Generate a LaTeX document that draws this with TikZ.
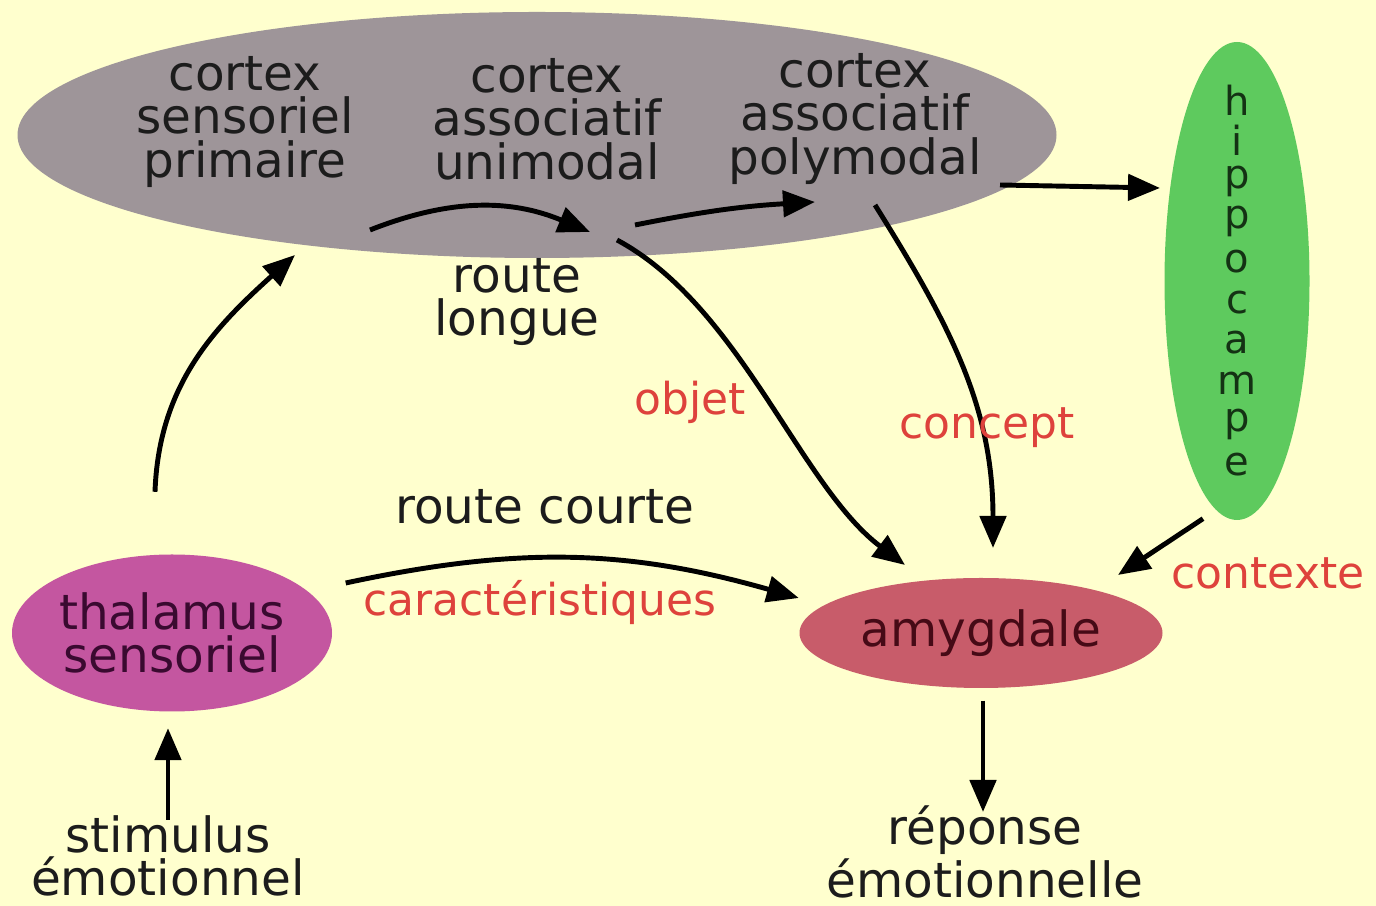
\documentclass[tikz,border=0pt]{standalone}
\usepackage{fontspec}
\setmainfont{DejaVu Sans}
\usepackage{tikz}
\usepackage{xcolor}
\usetikzlibrary{shapes.geometric,arrows.meta}
\definecolor{bgyellow}{RGB}{255,255,206}
\definecolor{cortexgray}{RGB}{158,149,153}
\definecolor{hipgreen}{RGB}{94,202,94}
\definecolor{thalpink}{RGB}{196,86,160}
\definecolor{amygred}{RGB}{200,92,106}
\definecolor{labelred}{RGB}{222,66,60}
\definecolor{inkgray}{RGB}{28,28,28}

\begin{document}
\begin{tikzpicture}[x=0.1mm,y=0.1mm,
  blob/.style={ellipse,inner sep=0pt},
  txt/.style={align=center,text=inkgray,inner sep=0pt,font=\fontsize{13.8}{12.4}\selectfont},
  redtxt/.style={text=labelred,inner sep=0pt,font=\fontsize{12.5}{14}\selectfont},
  arr/.style={line width=1.4pt,-{Triangle[length=3.2mm,width=2.6mm]}}]
  \fill[bgyellow] (0,0) rectangle (1376,906);
  \useasboundingbox (0,0) rectangle (1376,906);

  \node[blob,fill=cortexgray,minimum width=103.9mm,minimum height=24.6mm] (cortex) at (537,771) {};
  \node[blob,fill=hipgreen,minimum width=14.5mm,minimum height=47.8mm] (hippo) at (1237,625) {};
  \node[blob,txt,fill=thalpink,text={rgb,255:red,58;green,10;blue,48},minimum width=32mm,minimum height=15.7mm] (thal) at (172,273) {thalamus\\sensoriel};
  \node[blob,txt,fill=amygred,text={rgb,255:red,70;green,10;blue,22},minimum width=36.3mm,minimum height=11mm] (amyg) at (981,273) {amygdale};

  \node[txt] (prim) at (245,784) {cortex\\sensoriel\\primaire};
  \node[txt] (uni) at (547,787) {cortex\\associatif\\unimodal};
  \node[txt] (poly) at (855,787) {cortex\\associatif\\polymodal};
  \foreach \l [count=\i from 0] in {h,i,p,p,o,c,a,m,p,e}
    \node[txt,text={rgb,255:red,20;green,50;blue,20},font=\fontsize{11.4}{12}\selectfont] (hl\i) at (1237,806-40.5*\i) {\l};

  \node[txt] (longue) at (517,604) {route\\longue};
  \node[txt] (courte) at (545,399) {route courte};
  \node[txt] (stim) at (168,50) {stimulus\\émotionnel};
  \node[txt] (resp) at (985,54) {réponse\\émotionnelle};

  \draw[arr] ([shift={(-17,62)}]thal.north) to[out=88,in=222] ([shift={(-242,-120)}]cortex.center);
  \draw[arr] ([shift={(125,-108)}]prim.center) to[bend left=22] ([shift={(43,-113)}]uni.center);
  \draw[arr] ([shift={(88,-106)}]uni.center) to[bend left=4] ([shift={(-40,-83)}]poly.center);
  \draw[arr] ([shift={(145,-66)}]poly.center) -- ([shift={(-77,93)}]hippo.center);
  \draw[arr] ([shift={(70,-121)}]uni.center) .. controls +(123,-66) and +(-105,79) .. ([shift={(-76,68)}]amyg.center);
  \draw[arr] ([shift={(20,-86)}]poly.center) to[out=-58,in=90] ([shift={(12,85)}]amyg.center);
  \draw[arr] ([shift={(13,50)}]thal.east) to[bend left=14] ([shift={(0,35)}]amyg.west);
  \draw[arr] ([shift={(-34,2)}]hippo.south) -- ([shift={(137,58)}]amyg.center);
  \draw[arr] ([yshift=3.6mm]stim.center) -- ([shift={(-4,-16)}]thal.south);
  \draw[arr] ([shift={(2,-12)}]amyg.south) -- ([shift={(-2,40)}]resp.center);

  \node[redtxt] (objet) at (690,504) {objet};
  \node[redtxt] (concept) at (987,478) {concept};
  \node[redtxt] (caract) at (540,303) {caractéristiques};
  \node[redtxt] (contexte) at (1268,333) {contexte};
\end{tikzpicture}
\end{document}
